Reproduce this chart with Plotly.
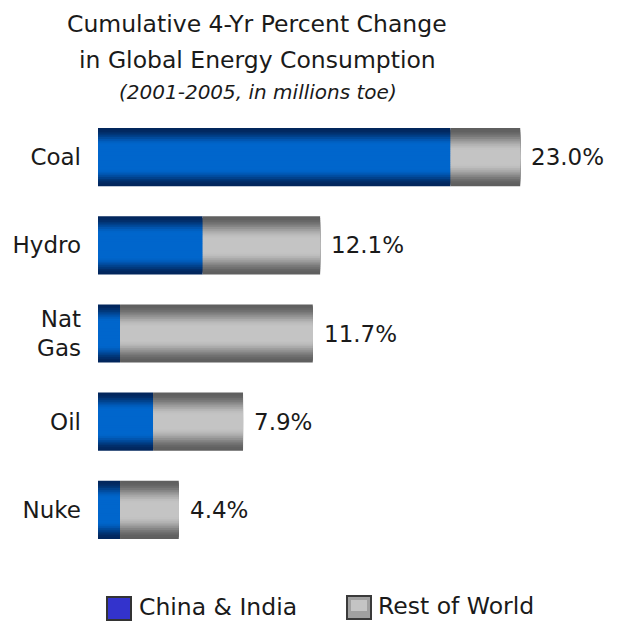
import plotly.graph_objects as go

# Energy sources, top to bottom
sources = ["Coal", "Hydro", "Nat<br>Gas", "Oil", "Nuke"]
# Cumulative 4-yr percent change (total)
total_change = [23.0, 12.1, 11.7, 7.9, 4.4]
# Portion attributable to China & India
china_india = [19.2, 5.7, 1.2, 3.0, 1.2]
# Remainder: rest of world
rest_of_world = [round(t - c, 2) for t, c in zip(total_change, china_india)]

W, H = 617, 624
M_L, M_R, M_T, M_B = 98, 5, 113, 70
PW, PH = W - M_L - M_R, H - M_T - M_B
FONT = "DejaVu Sans"
TXT = "#1a1a1a"


def px(x):
    return (x - M_L) / PW


def py(y):
    return (H - M_B - y) / PH


def mix(a, b, f):
    return "rgb(%d,%d,%d)" % tuple(round(a[i] + (b[i] - a[i]) * f) for i in range(3))


def smooth(t):
    t = max(0.0, min(1.0, t))
    return t * t * (3 - 2 * t)


BLUE_EDGE, BLUE_MID = (2, 38, 92), (0, 102, 204)
GRAY_EDGE, GRAY_MID = (95, 95, 95), (196, 196, 196)
BAR_W = 0.66
N = 16

fig = go.Figure()
# Cylinder shading: stacked layers of narrowing bars, darker at the edges
for k in range(N):
    t = k / (N - 1)
    w = BAR_W * (1 - k / N)
    fig.add_trace(go.Bar(
        y=sources, x=china_india, base=0, width=w, orientation="h",
        marker=dict(color=mix(BLUE_EDGE, BLUE_MID, smooth(t / 0.6)), line_width=0),
        showlegend=False, hoverinfo="skip"))
    fig.add_trace(go.Bar(
        y=sources, x=rest_of_world, base=china_india, width=w, orientation="h",
        marker=dict(color=mix(GRAY_EDGE, GRAY_MID, smooth(t / 0.8)), line_width=0),
        showlegend=False, hoverinfo="skip"))

annotations = []
for s, v in zip(sources, total_change):
    annotations.append(dict(
        x=v, y=s, xref="x", yref="y", text=f"{v:.1f}%", showarrow=False,
        xanchor="left", xshift=9, font=dict(family=FONT, size=23, color=TXT)))

# Title block
annotations += [
    dict(x=px(257), y=py(24), xref="paper", yref="paper", showarrow=False,
         text="Cumulative 4-Yr Percent Change", xanchor="center", yanchor="middle",
         font=dict(family=FONT, size=23.5, color=TXT)),
    dict(x=px(257), y=py(60), xref="paper", yref="paper", showarrow=False,
         text="in Global Energy Consumption", xanchor="center", yanchor="middle",
         font=dict(family=FONT, size=23.5, color=TXT)),
    dict(x=px(258), y=py(92), xref="paper", yref="paper", showarrow=False,
         text="<i>(2001-2005, in millions toe)</i>", xanchor="center", yanchor="middle",
         font=dict(family=FONT, size=20, color=TXT)),
]

# Legend
annotations += [
    dict(x=px(137), y=py(607), xref="paper", yref="paper", showarrow=False,
         text="China &amp; India", xanchor="left", yanchor="middle",
         font=dict(family=FONT, size=23.5, color=TXT)),
    dict(x=px(376), y=py(606), xref="paper", yref="paper", showarrow=False,
         text="Rest of World", xanchor="left", yanchor="middle",
         font=dict(family=FONT, size=23.5, color=TXT)),
]
shapes = [
    dict(type="rect", xref="paper", yref="paper",
         x0=px(107), x1=px(131), y0=py(597), y1=py(620),
         fillcolor="#3333cc", line=dict(color="#333333", width=2)),
    dict(type="rect", xref="paper", yref="paper",
         x0=px(347), x1=px(371), y0=py(596), y1=py(619),
         fillcolor="#a0a0a0", line=dict(color="#3a3a3a", width=2)),
    dict(type="rect", xref="paper", yref="paper",
         x0=px(351), x1=px(367), y0=py(600), y1=py(611),
         fillcolor="#c4c4c4", line=dict(width=0)),
]

fig.update_layout(
    width=W, height=H, barmode="overlay",
    margin=dict(l=M_L, r=M_R, t=M_T, b=M_B, pad=0),
    paper_bgcolor="white", plot_bgcolor="white",
    showlegend=False, annotations=annotations, shapes=shapes,
    xaxis=dict(range=[0, 28], visible=False, fixedrange=True),
    yaxis=dict(type="category", categoryorder="array", categoryarray=sources,
               autorange="reversed", showgrid=False, zeroline=False,
               showline=False, ticks="", ticklabelstandoff=16,
               tickfont=dict(family=FONT, size=23, color=TXT)),
)

fig.write_html("out.html")
